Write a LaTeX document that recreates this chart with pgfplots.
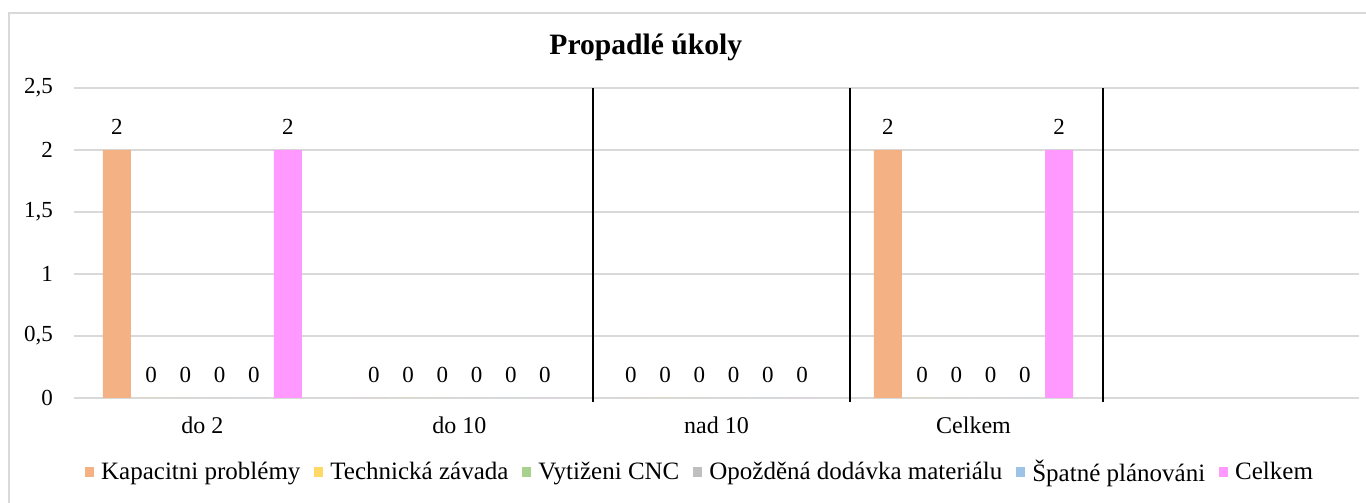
\documentclass[border=0pt]{standalone}
\usepackage{fontspec}
\setmainfont{Liberation Serif}
\usepackage{pgfplots}
\pgfplotsset{compat=1.18}
\definecolor{cKap}{HTML}{F4B183}
\definecolor{cTech}{HTML}{FFD966}
\definecolor{cCNC}{HTML}{A9D18E}
\definecolor{cMat}{HTML}{BFBFBF}
\definecolor{cPlan}{HTML}{9DC3E6}
\definecolor{cCel}{HTML}{FF99FF}
\begin{document}
\begin{tikzpicture}[x=1pt,y=1pt]
\useasboundingbox (0,0) rectangle (683,251.5);
\draw[gray!30, line width=0.75pt] (4.5,-10) rectangle (700,245);
\begin{axis}[
  at={(37pt,52.5pt)}, anchor=south west,
  scale only axis, width=642.5pt, height=155pt,
  ybar=3.1pt, bar width=14pt,
  xmin=-0.5, xmax=4.5, ymin=0, ymax=2.5,
  xtick={0,1,2,3}, xticklabels={do 2,do 10,nad 10,Celkem},
  ytick={0,0.5,1,1.5,2,2.5},
  ymajorgrids, grid style={gray!30, line width=0.75pt},
  axis line style={draw=none}, major tick length=0pt,
  /pgf/number format/use comma,
  /pgf/number format/assume math mode=true,
  yticklabel style={font=\fontsize{11.5}{13}\selectfont, xshift=-7pt},
  xticklabel style={font=\fontsize{12}{14}\selectfont, yshift=-6pt},
  nodes near coords,
  every node near coord/.append style={font=\fontsize{11.5}{13}\selectfont, yshift=4pt},
  clip=false,
  title={Propadlé úkoly},
  title style={font=\bfseries\fontsize{14.8}{16}\selectfont, at={(0.445,1)}, anchor=center, yshift=14.5pt},
  legend columns=6,
  legend style={draw=none, fill=none, at={(0.488,-0.239)}, anchor=center,
    font=\fontsize{12.5}{14}\selectfont,
    /tikz/every odd column/.append style={column sep=1.5pt},
    /tikz/every even column/.append style={column sep=5pt}},
  legend image code/.code={\fill[#1,draw=none] (0pt,-2.5pt) rectangle (4.5pt,2.5pt);},
]
\addplot[fill=cKap, draw=none] coordinates {(0,2) (1,0) (2,0) (3,2)};
\addplot[fill=cTech, draw=none] coordinates {(0,0) (1,0) (2,0) (3,0)};
\addplot[fill=cCNC, draw=none] coordinates {(0,0) (1,0) (2,0) (3,0)};
\addplot[fill=cMat, draw=none] coordinates {(0,0) (1,0) (2,0) (3,0)};
\addplot[fill=cPlan, draw=none] coordinates {(0,0) (1,0) (2,0) (3,0)};
\addplot[fill=cCel, draw=none] coordinates {(0,2) (1,0) (2,0) (3,2)};
\legend{Kapacitni problémy, Technická závada, Vytiženi CNC, Opožděná dodávka materiálu, Špatné plánováni, Celkem}
\draw[black, line width=0.8pt] (axis cs:1.52,-0.032) -- (axis cs:1.52,2.5);
\draw[black, line width=0.8pt] (axis cs:2.52,-0.032) -- (axis cs:2.52,2.5);
\draw[black, line width=0.8pt] (axis cs:3.505,-0.032) -- (axis cs:3.505,2.5);
\end{axis}
\end{tikzpicture}
\end{document}
